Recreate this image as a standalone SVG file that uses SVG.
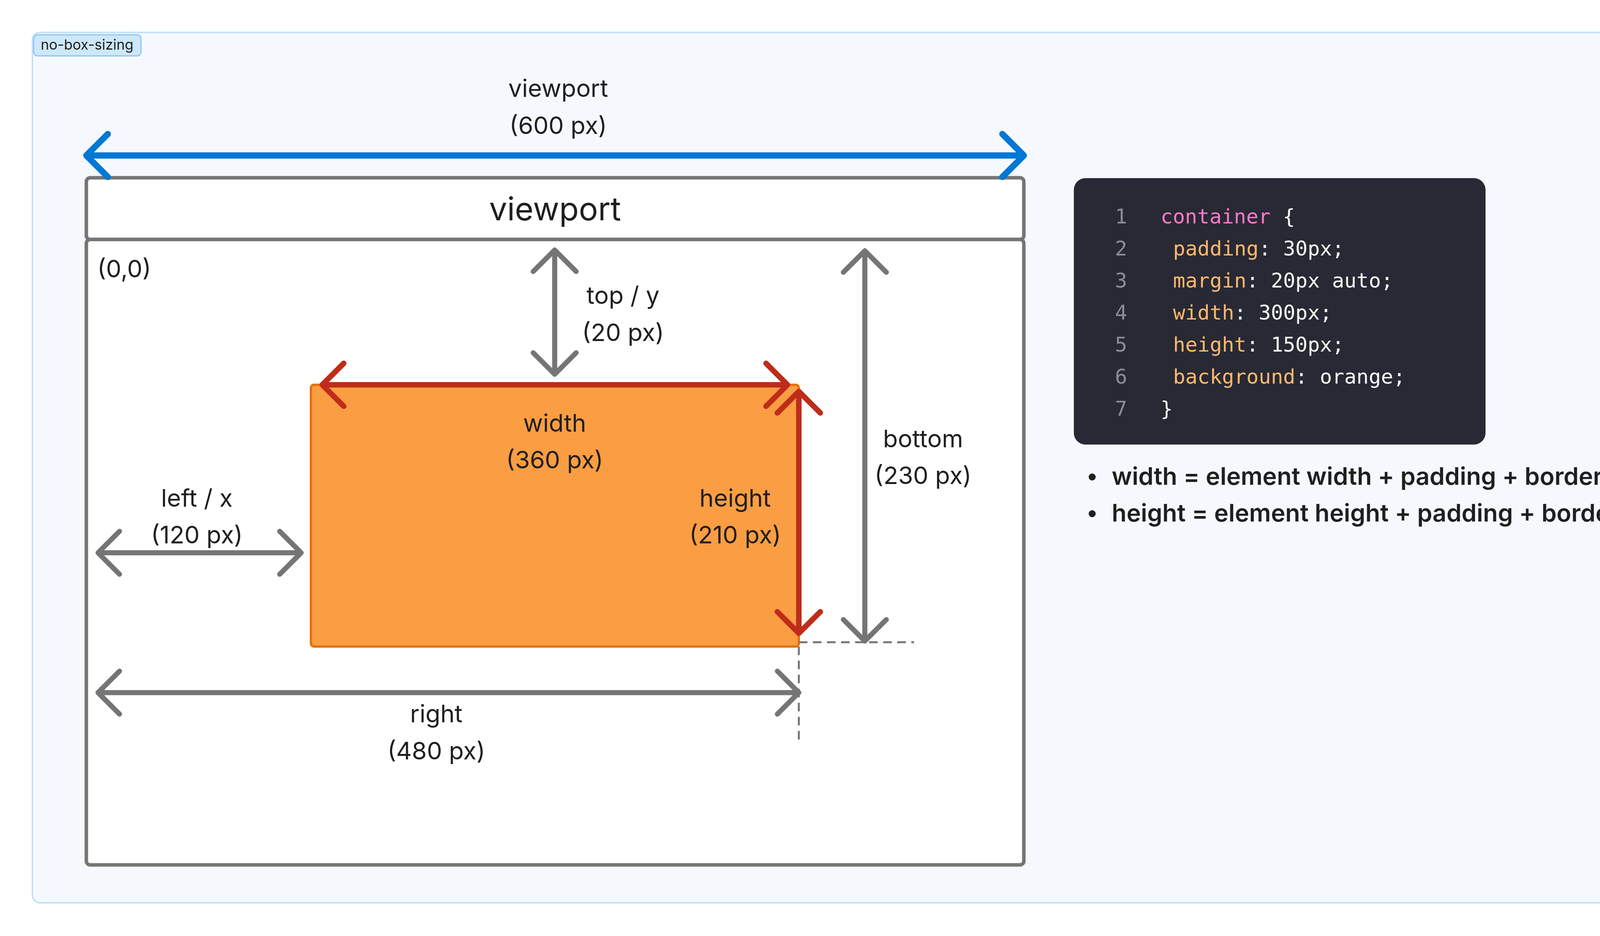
<svg xmlns="http://www.w3.org/2000/svg" width="4490" height="2396" viewBox="0 0 4490 2396">
<style>
.t{font-family:Inter,"Liberation Sans",sans-serif;font-size:62px;fill:#1f1f1f;text-anchor:middle}
.g{fill:none;stroke:#757575;stroke-width:13;stroke-linecap:round;stroke-linejoin:round}
.r{fill:none;stroke:#bf2c1a;stroke-width:14;stroke-linecap:round;stroke-linejoin:round}
.b{fill:none;stroke:#0078d4;stroke-width:16;stroke-linecap:round;stroke-linejoin:round}
.c{font-family:"DejaVu Sans Mono","Liberation Mono",monospace;font-size:52px;fill:#f8f8f2}
.n{fill:#8a8c96}.k{fill:#ff79c6}.p{fill:#ffb86c}
.bl{font-family:Inter,"Liberation Sans",sans-serif;font-size:62px;font-weight:600;fill:#1f1f1f}
</style>
<rect width="4490" height="2396" fill="#fff"/>
<rect x="83" y="83" width="4325" height="2228" rx="20" fill="#f5f9fe" stroke="#c2e2fa" stroke-width="4"/>
<g id="tag"><rect x="86" y="89" width="275" height="54" rx="10" fill="#cde7fb" stroke="#8cc6f0" stroke-width="3"/>
<text x="223" y="127" font-family="Inter,'Liberation Sans',sans-serif" font-size="36" text-anchor="middle" fill="#1f1f1f">no-box-sizing</text></g>
<g id="viewport-header"><rect x="221" y="455" width="2400" height="158" rx="10" fill="#fff" stroke="#757575" stroke-width="9"/>
<text class="t" x="1421" y="564" style="font-size:82px">viewport</text></g>
<g id="viewport-body"><rect x="221" y="613" width="2400" height="1601" rx="10" fill="#fff" stroke="#757575" stroke-width="9"/>
<text class="t" x="249" y="710" style="text-anchor:start">(0,0)</text></g>
<g id="element"><rect x="796" y="985" width="1249" height="670" rx="8" fill="#fb9d43" stroke="#e8710a" stroke-width="6"/></g>
<g id="connectors">
<path class="b" d="M221 398H2621M276 343L221 398L276 453M2566 343L2621 398L2566 453"/>
<path class="g" d="M1420 640V958M1365 695L1420 640L1475 695M1365 903L1420 958L1475 903"/>
<path class="g" d="M251 1415H771M306 1360L251 1415L306 1470M716 1360L771 1415L716 1470"/>
<path class="g" d="M2214 642V1641M2159 697L2214 642L2269 697M2159 1586L2214 1641L2269 1586"/>
<path class="g" d="M251 1773H2045M306 1718L251 1773L306 1828M1990 1718L2045 1773L1990 1828"/>
<path d="M2045 1644H2340M2045 1655V1905" fill="none" stroke="#757575" stroke-width="5" stroke-dasharray="22 14"/>
<path class="r" d="M825 985H2016M880 930L825 985L880 1040M1961 930L2016 985L1961 1040"/>
<path class="r" d="M2045 1002V1621M1990 1057L2045 1002L2100 1057M1990 1566L2045 1621L2100 1566"/>
</g>
<g id="labels">
<text class="t" x="1429" y="248">viewport</text><text class="t" x="1429" y="343">(600 px)</text>
<text class="t" x="1595" y="778">top / y</text><text class="t" x="1595" y="873">(20 px)</text>
<text class="t" x="1420" y="1105">width</text><text class="t" x="1420" y="1199">(360 px)</text>
<text class="t" x="1882" y="1297">height</text><text class="t" x="1882" y="1391">(210 px)</text>
<text class="t" x="504" y="1297">left / x</text><text class="t" x="504" y="1391">(120 px)</text>
<text class="t" x="2363" y="1145">bottom</text><text class="t" x="2363" y="1239">(230 px)</text>
<text class="t" x="1117" y="1849">right</text><text class="t" x="1117" y="1944">(480 px)</text>
</g>
<g id="code"><rect x="2749" y="456" width="1054" height="682" rx="30" fill="#272935"/>
<g class="c">
<text x="2870" y="572" class="n" text-anchor="middle">1</text><text x="2971" y="572"><tspan class="k">container</tspan> {</text>
<text x="2870" y="654" class="n" text-anchor="middle">2</text><text x="3003" y="654"><tspan class="p">padding</tspan>: 30px;</text>
<text x="2870" y="736" class="n" text-anchor="middle">3</text><text x="3003" y="736"><tspan class="p">margin</tspan>: 20px auto;</text>
<text x="2870" y="818" class="n" text-anchor="middle">4</text><text x="3003" y="818"><tspan class="p">width</tspan>: 300px;</text>
<text x="2870" y="900" class="n" text-anchor="middle">5</text><text x="3003" y="900"><tspan class="p">height</tspan>: 150px;</text>
<text x="2870" y="982" class="n" text-anchor="middle">6</text><text x="3003" y="982"><tspan class="p">background</tspan>: orange;</text>
<text x="2870" y="1064" class="n" text-anchor="middle">7</text><text x="2971" y="1064">}</text>
</g></g>
<g id="notes">
<circle cx="2796" cy="1221" r="9" fill="#1f1f1f"/><text class="bl" x="2846" y="1241" textLength="1451" lengthAdjust="spacingAndGlyphs">width = element width + padding + border-width</text>
<circle cx="2796" cy="1315" r="9" fill="#1f1f1f"/><text class="bl" x="2846" y="1335" textLength="1494" lengthAdjust="spacingAndGlyphs">height = element height + padding + border-width</text>
</g>
</svg>
